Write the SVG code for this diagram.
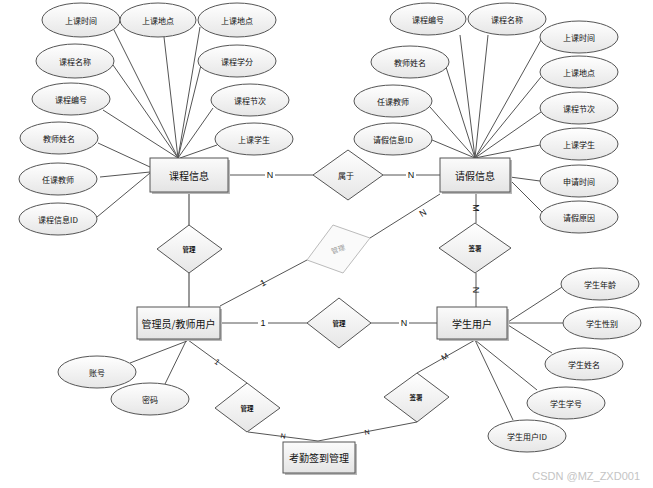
<svg xmlns="http://www.w3.org/2000/svg" width="653" height="488" viewBox="0 0 653 488">
<defs>
<linearGradient id="gE" x1="0" y1="0" x2="0" y2="1"><stop offset="0" stop-color="#ffffff"/><stop offset="1" stop-color="#e6e6e6"/></linearGradient>
<linearGradient id="gR" x1="0" y1="0" x2="0" y2="1"><stop offset="0" stop-color="#fbfbfb"/><stop offset="1" stop-color="#e4e4e4"/></linearGradient>
<style>
.e{fill:url(#gE);stroke:#555;stroke-width:1}
.r{fill:url(#gR);stroke:#555;stroke-width:1}
.sh{fill:#b8b8b8}
.d{fill:url(#gE);stroke:#555;stroke-width:1}
.t{font-family:"Noto Sans CJK SC","Liberation Sans",sans-serif;fill:#111;text-anchor:middle;dominant-baseline:central}
.ta{font-size:8px}
.tr{font-size:10px}
.td{font-size:6.5px;font-weight:bold}
.c line,.c polyline{stroke:#555;stroke-width:1;fill:none}
.l{font-family:"Liberation Sans",sans-serif;font-size:9px;fill:#111;text-anchor:middle;dominant-baseline:central}
</style>
</defs>
<rect width="653" height="488" fill="#ffffff"/>
<g class="c" id="connectors">
<line x1="113" y1="28" x2="178" y2="158"/>
<line x1="164" y1="37" x2="178" y2="158"/>
<line x1="200" y1="27" x2="178" y2="158"/>
<line x1="113" y1="65" x2="178" y2="158"/>
<line x1="201" y1="65" x2="178" y2="158"/>
<line x1="103" y1="110" x2="178" y2="158"/>
<line x1="213" y1="108" x2="178" y2="158"/>
<line x1="217" y1="145" x2="180" y2="158"/>
<line x1="98" y1="143" x2="150" y2="167"/>
<line x1="100" y1="177" x2="150" y2="172"/>
<line x1="97" y1="217" x2="150" y2="173"/>
<line x1="228" y1="175" x2="313" y2="175"/>
<line x1="383" y1="175" x2="440" y2="175"/>
<line x1="460" y1="35" x2="475" y2="158"/>
<line x1="488" y1="35" x2="475" y2="158"/>
<line x1="541" y1="40" x2="475" y2="158"/>
<line x1="446" y1="67" x2="475" y2="158"/>
<line x1="541" y1="77" x2="475" y2="158"/>
<line x1="430" y1="107" x2="475" y2="158"/>
<line x1="541" y1="112" x2="475" y2="158"/>
<line x1="432" y1="140" x2="475" y2="158"/>
<line x1="540" y1="145" x2="475" y2="158"/>
<line x1="510" y1="177" x2="540" y2="181"/>
<line x1="510" y1="180" x2="543" y2="213"/>
<line x1="476" y1="192" x2="476" y2="223"/>
<line x1="476" y1="273" x2="476" y2="307"/>
<line x1="189" y1="192" x2="189" y2="225" style="stroke:#777;stroke-width:1.5"/>
<line x1="189" y1="273" x2="189" y2="307" style="stroke:#777;stroke-width:1.5"/>
<line x1="220" y1="323" x2="307" y2="323"/>
<line x1="371" y1="323" x2="437" y2="323"/>
<line x1="220" y1="306" x2="307" y2="260"/>
<line x1="370" y1="238" x2="440" y2="194"/>
<line x1="508" y1="322" x2="562" y2="287"/>
<line x1="508" y1="323" x2="563" y2="323"/>
<line x1="508" y1="325" x2="552" y2="353"/>
<line x1="475" y1="340" x2="537" y2="390"/>
<line x1="475" y1="340" x2="513" y2="420"/>
<line x1="130" y1="363" x2="187" y2="341"/>
<line x1="165" y1="384" x2="186" y2="341"/>
<line x1="188" y1="340" x2="247" y2="383"/>
<polyline points="248,432 318,441 417,422"/>
<line x1="417" y1="373" x2="475" y2="340"/>
</g>
<g id="labels">
<rect x="265" y="170" width="10" height="10" fill="#fff"/><text class="l" x="270" y="175">N</text>
<rect x="406" y="170" width="10" height="10" fill="#fff"/><text class="l" x="411" y="175">N</text>
<rect x="258" y="318" width="10" height="10" fill="#fff"/><text class="l" x="263" y="323">1</text>
<rect x="399" y="318" width="10" height="10" fill="#fff"/><text class="l" x="404" y="323">N</text>
<text class="l" x="476" y="208" transform="rotate(90 476 208)">M</text>
<text class="l" x="476" y="290" transform="rotate(90 476 290)">N</text>
<text class="l" x="263" y="283" transform="rotate(-28 263 283)">1</text>
<text class="l" x="423" y="213" transform="rotate(-32 423 213)">N</text>
<text class="l" x="217" y="362" transform="rotate(36 217 362)" style="font-size:8px">1</text>
<text class="l" x="283" y="436" transform="rotate(8 283 436)" style="font-size:7px">N</text>
<text class="l" x="367" y="432" transform="rotate(-11 367 432)" style="font-size:7px">N</text>
<text class="l" x="445" y="357" transform="rotate(-30 445 357)" style="font-size:8px">M</text>
</g>
<g id="kcxx"><rect class="sh" x="152" y="160" width="78" height="34"/><rect class="r" x="150" y="158" width="78" height="34"/><text class="t tr" x="189" y="175">课程信息</text></g>
<g id="qjxx"><rect class="sh" x="442" y="160" width="70" height="34"/><rect class="r" x="440" y="158" width="70" height="34"/><text class="t tr" x="475" y="175">请假信息</text></g>
<g id="gly"><rect class="sh" x="139" y="309" width="83" height="32"/><rect class="r" x="137" y="307" width="83" height="32"/><text class="t tr" x="178.5" y="323">管理员/教师用户</text></g>
<g id="xsyh"><rect class="sh" x="439" y="309" width="70" height="32"/><rect class="r" x="437" y="307" width="70" height="32"/><text class="t tr" x="472" y="323">学生用户</text></g>
<g id="kqqd"><rect class="sh" x="285" y="444" width="72" height="31"/><rect class="r" x="283" y="442" width="72" height="31"/><text class="t tr" x="319" y="457.5">考勤签到管理</text></g>
<g id="d-shuyu"><polygon class="d" points="313,175 348,150 383,175 348,200"/><text class="t" x="346" y="175" style="font-size:8px">属于</text></g>
<g id="d-guanli1"><polygon class="d" points="157,249 189,225 222,249 189,273"/><text class="t td" x="189" y="249">管理</text></g>
<g id="d-guanli2"><polygon class="d" points="307,323 339,298 371,323 339,348"/><text class="t td" x="339" y="323">管理</text></g>
<g id="d-guanli3"><polygon points="307,260 333,225 370,238 343,273" style="fill:#fafafa;stroke:#bbb;stroke-width:1"/><text class="t" x="338" y="249" transform="rotate(-19 338 249)" style="font-size:7px;fill:#999">管理</text></g>
<g id="d-guanli4"><polygon class="d" points="215,408 247,383 280,408 247,432"/><text class="t td" x="247" y="408">管理</text></g>
<g id="d-qianshu1"><polygon class="d" points="439,248 475,223 511,248 475,273"/><text class="t td" x="475" y="248">签署</text></g>
<g id="d-qianshu2"><polygon class="d" points="384,397 417,373 449,397 417,422"/><text class="t td" x="416" y="397">签署</text></g>
<g id="a1"><ellipse class="e" cx="81" cy="20" rx="39" ry="17"/><text class="t ta" x="81" y="20">上课时间</text></g>
<g id="a2"><ellipse class="e" cx="158" cy="20" rx="38" ry="17"/><text class="t ta" x="158" y="20">上课地点</text></g>
<g id="a3"><ellipse class="e" cx="237" cy="20" rx="39" ry="17"/><text class="t ta" x="237" y="20">上课地点</text></g>
<g id="a4"><ellipse class="e" cx="75" cy="61" rx="39" ry="17"/><text class="t ta" x="75" y="61">课程名称</text></g>
<g id="a5"><ellipse class="e" cx="237" cy="61" rx="39" ry="16"/><text class="t ta" x="237" y="61">课程学分</text></g>
<g id="a6"><ellipse class="e" cx="71" cy="99" rx="39" ry="16"/><text class="t ta" x="71" y="99">课程编号</text></g>
<g id="a7"><ellipse class="e" cx="250" cy="100" rx="39" ry="16"/><text class="t ta" x="250" y="100">课程节次</text></g>
<g id="a8"><ellipse class="e" cx="59" cy="138" rx="39" ry="16"/><text class="t ta" x="59" y="138">教师姓名</text></g>
<g id="a9"><ellipse class="e" cx="254" cy="139" rx="39" ry="16"/><text class="t ta" x="254" y="139">上课学生</text></g>
<g id="a10"><ellipse class="e" cx="58" cy="179" rx="39" ry="16"/><text class="t ta" x="58" y="179">任课教师</text></g>
<g id="a11"><ellipse class="e" cx="58" cy="219" rx="39" ry="16"/><text class="t ta" x="58" y="219">课程信息ID</text></g>
<g id="b1"><ellipse class="e" cx="428" cy="19" rx="38" ry="16"/><text class="t ta" x="428" y="19">课程编号</text></g>
<g id="b2"><ellipse class="e" cx="507" cy="19" rx="39" ry="16"/><text class="t ta" x="507" y="19">课程名称</text></g>
<g id="b3"><ellipse class="e" cx="579" cy="37" rx="39" ry="16"/><text class="t ta" x="579" y="37">上课时间</text></g>
<g id="b4"><ellipse class="e" cx="410" cy="62" rx="39" ry="16"/><text class="t ta" x="410" y="62">教师姓名</text></g>
<g id="b5"><ellipse class="e" cx="579" cy="72" rx="39" ry="16"/><text class="t ta" x="579" y="72">上课地点</text></g>
<g id="b6"><ellipse class="e" cx="393" cy="101" rx="39" ry="16"/><text class="t ta" x="393" y="101">任课教师</text></g>
<g id="b7"><ellipse class="e" cx="579" cy="108" rx="39" ry="16"/><text class="t ta" x="579" y="108">课程节次</text></g>
<g id="b8"><ellipse class="e" cx="393" cy="139" rx="39" ry="16"/><text class="t ta" x="393" y="139">请假信息ID</text></g>
<g id="b9"><ellipse class="e" cx="579" cy="144" rx="39" ry="16"/><text class="t ta" x="579" y="144">上课学生</text></g>
<g id="b10"><ellipse class="e" cx="579" cy="181" rx="39" ry="16"/><text class="t ta" x="579" y="181">申请时间</text></g>
<g id="b11"><ellipse class="e" cx="579" cy="217" rx="39" ry="16"/><text class="t ta" x="579" y="217">请假原因</text></g>
<g id="s1"><ellipse class="e" cx="600" cy="284" rx="39" ry="16"/><text class="t ta" x="600" y="284">学生年龄</text></g>
<g id="s2"><ellipse class="e" cx="602" cy="323" rx="39" ry="16"/><text class="t ta" x="602" y="323">学生性别</text></g>
<g id="s3"><ellipse class="e" cx="584" cy="364" rx="39" ry="16"/><text class="t ta" x="584" y="364">学生姓名</text></g>
<g id="s4"><ellipse class="e" cx="566" cy="403" rx="39" ry="16"/><text class="t ta" x="566" y="403">学生学号</text></g>
<g id="s5"><ellipse class="e" cx="527" cy="436" rx="39" ry="16"/><text class="t ta" x="527" y="436">学生用户ID</text></g>
<g id="g1"><ellipse class="e" cx="97" cy="372" rx="39" ry="16"/><text class="t ta" x="97" y="372">账号</text></g>
<g id="g2"><ellipse class="e" cx="150" cy="399" rx="39" ry="16"/><text class="t ta" x="150" y="399">密码</text></g>
<text x="640" y="476" style="font-family:'Liberation Sans',sans-serif;font-size:11px;fill:#c4c4c4;text-anchor:end;dominant-baseline:central">CSDN @MZ_ZXD001</text>
</svg>
